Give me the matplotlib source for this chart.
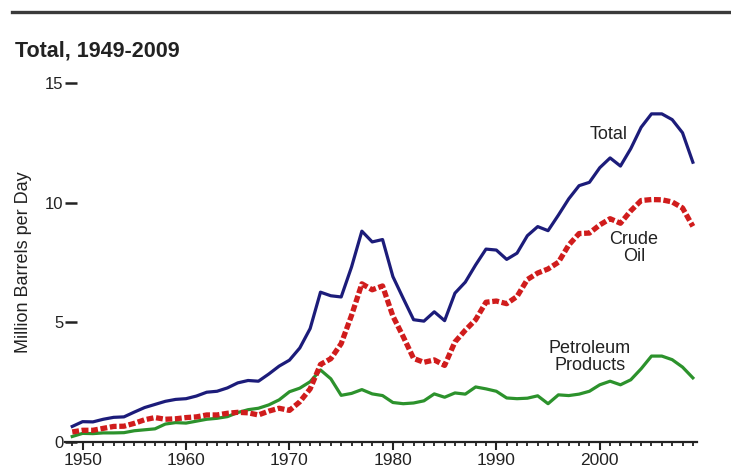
import matplotlib
matplotlib.use("Agg")
import matplotlib.pyplot as plt
from matplotlib.lines import Line2D
from matplotlib.ticker import MultipleLocator

plt.rcParams['font.family'] = ['Liberation Sans', 'DejaVu Sans']

# U.S. petroleum imports, million barrels per day
years = list(range(1949, 2010))
total = [0.65, 0.85, 0.84, 0.95, 1.03, 1.05, 1.25, 1.44, 1.57, 1.70,
         1.78, 1.81, 1.92, 2.08, 2.12, 2.26, 2.47, 2.57, 2.54, 2.84,
         3.17, 3.42, 3.93, 4.74, 6.26, 6.11, 6.06, 7.31, 8.81, 8.36,
         8.46, 6.91, 6.00, 5.11, 5.05, 5.44, 5.07, 6.22, 6.68, 7.40,
         8.06, 8.02, 7.63, 7.89, 8.62, 9.00, 8.83, 9.48, 10.16, 10.71,
         10.85, 11.46, 11.87, 11.53, 12.26, 13.15, 13.71, 13.71, 13.47, 12.92,
         11.69]
crude = [0.42, 0.49, 0.49, 0.57, 0.65, 0.66, 0.78, 0.93, 1.02, 0.95,
         0.97, 1.02, 1.05, 1.13, 1.13, 1.20, 1.24, 1.22, 1.13, 1.29,
         1.41, 1.32, 1.68, 2.22, 3.24, 3.48, 4.11, 5.29, 6.61, 6.36,
         6.52, 5.26, 4.40, 3.49, 3.33, 3.43, 3.20, 4.18, 4.67, 5.11,
         5.84, 5.89, 5.78, 6.08, 6.79, 7.06, 7.23, 7.51, 8.23, 8.71,
         8.73, 9.07, 9.33, 9.14, 9.66, 10.09, 10.13, 10.12, 10.03, 9.78,
         9.01]
products = [0.23, 0.36, 0.35, 0.38, 0.38, 0.39, 0.47, 0.51, 0.55, 0.75,
            0.81, 0.79, 0.87, 0.95, 0.99, 1.06, 1.23, 1.35, 1.41, 1.55,
            1.76, 2.10, 2.25, 2.52, 3.01, 2.64, 1.95, 2.03, 2.19, 2.01,
            1.94, 1.65, 1.60, 1.63, 1.72, 2.01, 1.87, 2.05, 2.00, 2.30,
            2.22, 2.12, 1.84, 1.81, 1.83, 1.93, 1.60, 1.97, 1.94, 2.00,
            2.12, 2.39, 2.54, 2.39, 2.60, 3.06, 3.59, 3.59, 3.44, 3.13,
            2.68]

y_ticks = [0, 5, 10, 15]
x_ticks = [1950, 1960, 1970, 1980, 1990, 2000]

W, H = 731, 472
fig = plt.figure(figsize=(W / 100, H / 100), dpi=100)
ax = fig.add_axes([65 / W, (H - 442) / H, (697 - 65) / W, (442 - 83) / H])

ink = '#222222'
ax.plot(years, total, color='#1c1c7a', lw=2.3, solid_joinstyle='round', zorder=3)
ax.plot(years, crude, color='#d01c1c', lw=3.8,
        linestyle=(0, (1.3, 0.5)), dash_capstyle='butt', zorder=2)
ax.plot(years, products, color='#2c922c', lw=2.3, solid_joinstyle='round', zorder=1)

ax.set_xlim(1948.3, 2009.4)
ax.set_ylim(0, 15)

for side in ('left', 'right', 'top'):
    ax.spines[side].set_visible(False)
ax.spines['bottom'].set_linewidth(1.6)
ax.spines['bottom'].set_color(ink)

ax.set_xticks(x_ticks)
ax.xaxis.set_minor_locator(MultipleLocator(1))
ax.tick_params(axis='x', which='major', direction='out', length=5.5, width=1.5,
               color=ink, labelsize=12.5, labelcolor=ink, pad=2.5)
ax.tick_params(axis='x', which='minor', direction='out', length=2.8, width=1.3,
               color=ink)

ax.set_yticks(y_ticks)
ax.tick_params(axis='y', which='major', direction='in', length=8.5, width=1.8,
               color=ink, labelsize=12, labelcolor=ink, pad=1)

# Series labels
ax.text(2000.9, 12.83, 'Total', fontsize=13, color=ink, ha='center', va='center')
ax.text(2003.3, 8.1, 'Crude\nOil', fontsize=13, color=ink, ha='center',
        va='center', linespacing=1.05)
ax.text(1999.05, 3.55, 'Petroleum\nProducts', fontsize=13, color=ink,
        ha='center', va='center', linespacing=1.05)

# Heading rule and title
fig.add_artist(Line2D([12 / W, 1.0], [(H - 12) / H, (H - 12) / H],
                      color='#3a3a3a', lw=2.4, transform=fig.transFigure))
fig.text(15 / W, (H - 57) / H, 'Total, 1949-2009', fontsize=15.5,
         fontweight='bold', color=ink, ha='left', va='baseline')
fig.text(24 / W, (H - 262) / H, 'Million Barrels per Day', fontsize=13,
         color=ink, rotation=90, ha='center', va='center')

fig.savefig('out.png', dpi=100, facecolor='white')
